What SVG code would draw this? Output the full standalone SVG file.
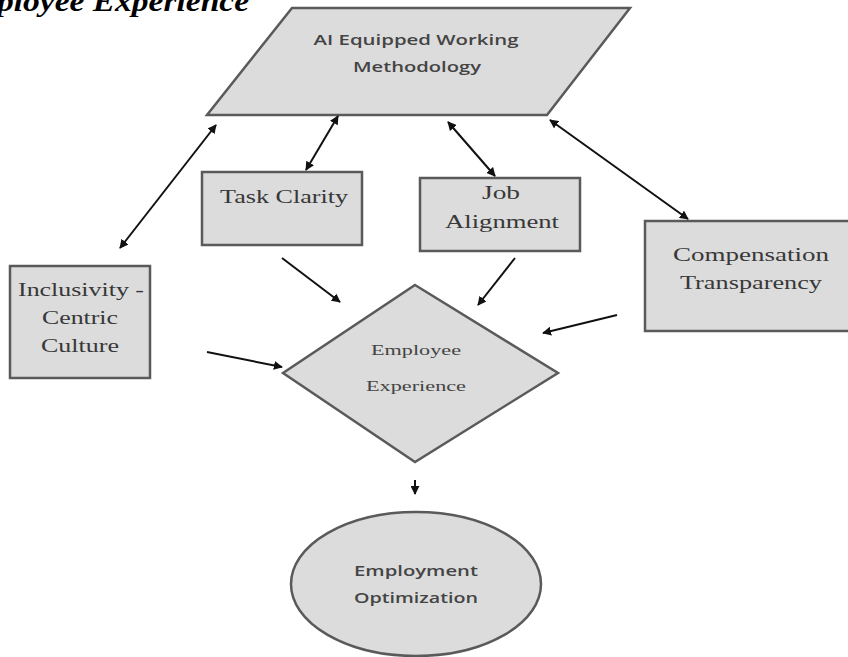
<svg xmlns="http://www.w3.org/2000/svg" width="848" height="657" viewBox="0 0 848 657">
<defs>
<style>
.shape{fill:#dcdcdc;stroke:#5a5a5a;stroke-width:2.5}
.serif{font-family:"Liberation Serif","Times New Roman",serif;font-size:18px;fill:#383838;text-anchor:middle}
.sans{font-family:"Open Sans","Liberation Sans",sans-serif;font-size:14px;fill:#444;text-anchor:middle;font-weight:600}
.small{font-family:"Liberation Serif",serif;font-size:15px;fill:#444;text-anchor:middle}
.conn{stroke:#111;stroke-width:2;fill:none}
</style>
<marker id="ah" viewBox="0 0 10 10" refX="9" refY="5" markerWidth="4.5" markerHeight="4.5" orient="auto-start-reverse" markerUnits="strokeWidth">
<path d="M0,0 L10,5 L0,10 z" fill="#111"/>
</marker>
</defs>
<rect width="848" height="657" fill="#fff"/>
<text x="-3" y="11" font-family="Liberation Serif,serif" font-size="30" font-weight="bold" font-style="italic" fill="#000" textLength="252" lengthAdjust="spacingAndGlyphs">ployee Experience</text>
<g id="ai-methodology">
<polygon class="shape" points="292,8 630,8 547,115 207,115"/>
<text class="sans" x="416" y="45" textLength="205" lengthAdjust="spacingAndGlyphs">AI Equipped Working</text>
<text class="sans" x="417" y="72" textLength="128" lengthAdjust="spacingAndGlyphs">Methodology</text>
</g>
<g id="task-clarity">
<rect class="shape" x="202" y="172" width="160" height="73"/>
<text class="serif" x="284" y="203" textLength="128" lengthAdjust="spacingAndGlyphs">Task Clarity</text>
</g>
<g id="job-alignment">
<rect class="shape" x="420" y="178" width="160" height="73"/>
<text class="serif" x="501" y="199" textLength="38" lengthAdjust="spacingAndGlyphs">Job</text>
<text class="serif" x="502" y="228" textLength="114" lengthAdjust="spacingAndGlyphs">Alignment</text>
</g>
<g id="compensation">
<rect class="shape" x="645" y="221" width="210" height="110"/>
<text class="serif" x="751" y="261" textLength="156" lengthAdjust="spacingAndGlyphs">Compensation</text>
<text class="serif" x="751" y="289" textLength="142" lengthAdjust="spacingAndGlyphs">Transparency</text>
</g>
<g id="inclusivity">
<rect class="shape" x="10" y="266" width="140" height="112"/>
<text class="serif" x="81" y="296" textLength="126" lengthAdjust="spacingAndGlyphs">Inclusivity -</text>
<text class="serif" x="80" y="324" textLength="76" lengthAdjust="spacingAndGlyphs">Centric</text>
<text class="serif" x="80" y="352" textLength="78" lengthAdjust="spacingAndGlyphs">Culture</text>
</g>
<g id="employee-experience">
<polygon class="shape" points="415,285 558,373 415,462 283,373"/>
<text class="small" x="416" y="355" textLength="90" lengthAdjust="spacingAndGlyphs">Employee</text>
<text class="small" x="416" y="391" textLength="100" lengthAdjust="spacingAndGlyphs">Experience</text>
</g>
<g id="employment-optimization">
<ellipse class="shape" cx="416" cy="584" rx="125" ry="72"/>
<text class="sans" x="416" y="576" textLength="124" lengthAdjust="spacingAndGlyphs">Employment</text>
<text class="sans" x="416" y="603" textLength="124" lengthAdjust="spacingAndGlyphs">Optimization</text>
</g>
<g id="connectors">
<line class="conn" x1="216" y1="125" x2="120" y2="248" marker-start="url(#ah)" marker-end="url(#ah)"/>
<line class="conn" x1="338" y1="116" x2="306" y2="170" marker-start="url(#ah)" marker-end="url(#ah)"/>
<line class="conn" x1="448" y1="122" x2="495" y2="176" marker-start="url(#ah)" marker-end="url(#ah)"/>
<line class="conn" x1="550" y1="120" x2="688" y2="219" marker-start="url(#ah)" marker-end="url(#ah)"/>
<line class="conn" x1="282" y1="258" x2="340" y2="302" marker-end="url(#ah)"/>
<line class="conn" x1="515" y1="258" x2="478" y2="305" marker-end="url(#ah)"/>
<line class="conn" x1="617" y1="315" x2="543" y2="333" marker-end="url(#ah)"/>
<line class="conn" x1="207" y1="352" x2="282" y2="367" marker-end="url(#ah)"/>
<line class="conn" x1="415" y1="480" x2="415" y2="494" marker-end="url(#ah)"/>
</g>
</svg>
